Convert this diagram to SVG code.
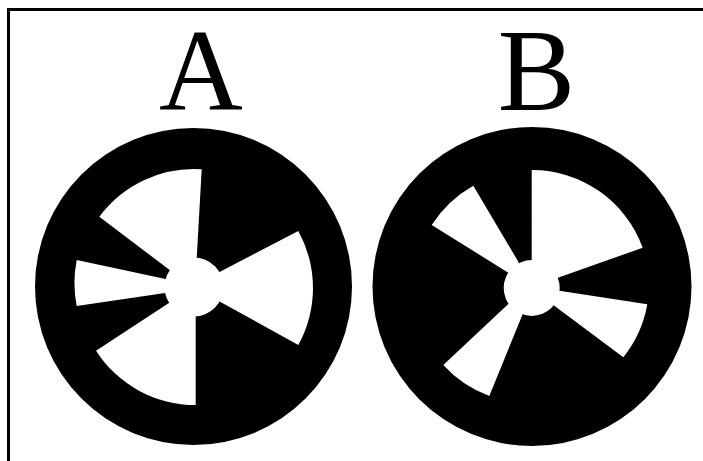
<svg xmlns="http://www.w3.org/2000/svg" width="703" height="461" viewBox="0 0 703 461">
  <style>
    .disk { fill: #000; }
    .white { fill: #fff; }
    .label { font-size: 116px; fill: #000; text-anchor: middle; }
  </style>
  <rect x="0" y="0" width="703" height="461" fill="#fff"/>
  <path d="M 8.5 470 V 9.5 H 712" fill="none" stroke="#000" stroke-width="3"/>

  <g id="wheel-A">
    <text class="label" font-family="Liberation Serif, Times New Roman, serif" x="201" y="110">A</text>
    <circle class="disk" cx="193.5" cy="286.5" r="158.5"/>
    <path class="white" d="M 194 287 L 168.3 269 L 99.3 216.7 A 118 118 0 0 1 201.7 169.3 L 196.7 258.3 Z"/>
    <path class="white" d="M 194 287 L 166.7 279.3 L 76.7 260 A 119 119 0 0 0 76.7 306 L 166.7 292.7 Z"/>
    <path class="white" d="M 194 287 L 169.3 302.7 L 96 350.7 A 118 118 0 0 0 195.7 405 L 195.7 315 Z"/>
    <path class="white" d="M 194 287 L 220 271.7 L 298.3 231 A 118 118 0 0 1 298.3 345 L 220 301.7 Z"/>
    <circle class="white" cx="194" cy="287" r="29.5"/>
  </g>

  <g id="wheel-B">
    <text class="label" font-family="Liberation Serif, Times New Roman, serif" x="536.5" y="110">B</text>
    <circle class="disk" cx="532" cy="286.5" r="159.5"/>
    <path class="white" d="M 531.7 288 L 531.7 257.3 L 531.7 170 A 118 118 0 0 1 642.7 247.7 L 559.3 277.3 Z"/>
    <path class="white" d="M 531.7 288 L 559.3 290.7 L 647.3 304.3 A 117 117 0 0 1 623.3 357.3 L 553.3 305 Z"/>
    <path class="white" d="M 531.7 288 L 522.3 315 L 489.3 396 A 117 117 0 0 1 443.3 365 L 508.3 304 Z"/>
    <path class="white" d="M 531.7 288 L 506.7 271.7 L 431.7 225 A 118 118 0 0 1 473.3 185.7 L 517.3 260 Z"/>
    <circle class="white" cx="531.7" cy="288" r="28"/>
  </g>
</svg>
